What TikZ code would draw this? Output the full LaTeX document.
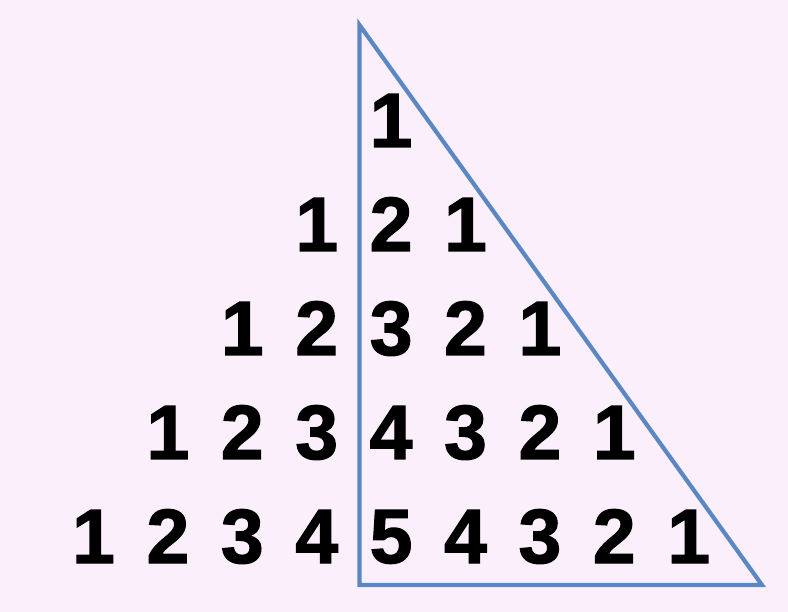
\documentclass[tikz,border=0pt]{standalone}
\usepackage{fontspec}
\setmainfont{Liberation Sans}
\newfontfamily\heavydigits{Liberation Sans Bold}[FakeBold=1.6]
\definecolor{bgpink}{HTML}{FBEFFB}
\definecolor{lineblue}{HTML}{5B88C4}
\begin{document}
\begin{tikzpicture}[x=1pt,y=-1pt,
  digit/.style={inner sep=0pt,anchor=base,font=\fontsize{77}{77}\heavydigits,text=black},
  tri/.style={draw=lineblue,line width=4.2pt,line join=miter}]
\fill[bgpink] (0,0) rectangle (788,612);
\useasboundingbox (0,0) rectangle (788,612);
\coordinate (A) at (359.5,25);
\coordinate (B) at (359.5,585);
\coordinate (C) at (762,585);
\draw[tri] (A) -- (B) -- (C) -- cycle;
\foreach \r in {1,...,5}{
  \pgfmathtruncatemacro{\lo}{5-\r}
  \pgfmathtruncatemacro{\hi}{3+\r}
  \foreach \c in {\lo,...,\hi}{
    \pgfmathtruncatemacro{\v}{\r-abs(\c-4)}
    \node[digit] (n-\r-\c) at ({93.5+74.4*\c},{147+104*(\r-1)}) {\v};
  }
}
\end{tikzpicture}
\end{document}
